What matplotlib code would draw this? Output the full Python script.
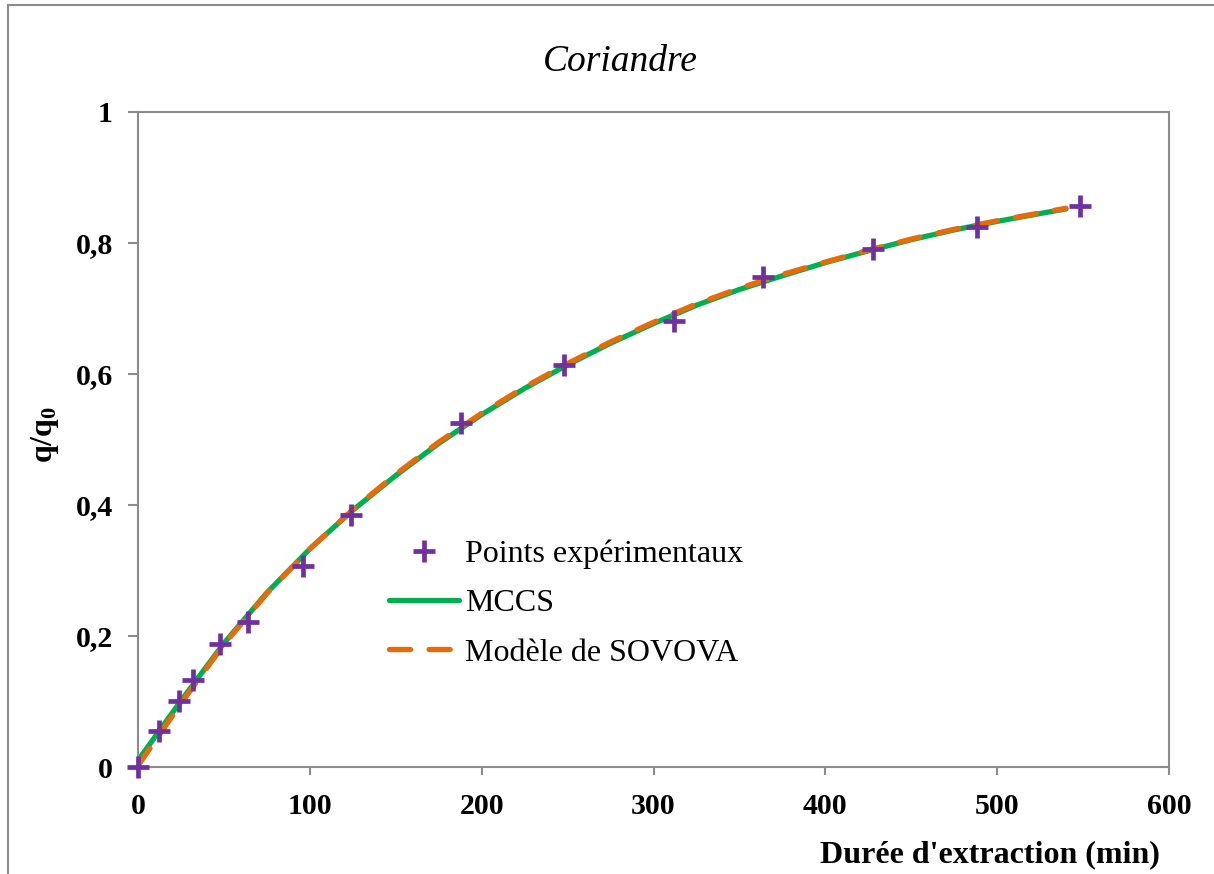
import matplotlib
matplotlib.use('Agg')
import matplotlib.pyplot as plt
from matplotlib.patches import Rectangle

# Coriandre extraction kinetics: experimental points and two fitted models
t_exp = [0, 12, 24, 32, 48, 64, 96, 124, 188, 248, 312, 364, 428, 488, 548]
q_exp = [0.0, 0.055, 0.101, 0.133, 0.188, 0.221, 0.307, 0.385, 0.525, 0.614,
         0.681, 0.748, 0.791, 0.824, 0.856]

t_model = [0, 25, 50, 75, 100, 125, 150, 175, 200, 225, 250, 275, 300, 325,
           350, 375, 400, 425, 450, 475, 500, 525, 540]
q_mccs = [0.010, 0.101, 0.189, 0.266, 0.333, 0.392, 0.445, 0.494, 0.538, 0.578,
          0.614, 0.647, 0.677, 0.705, 0.729, 0.750, 0.770, 0.788, 0.805, 0.820,
          0.833, 0.845, 0.852]
q_sovova = [0.002, 0.097, 0.187, 0.265, 0.333, 0.393, 0.447, 0.496, 0.540, 0.580,
            0.616, 0.649, 0.679, 0.707, 0.731, 0.752, 0.771, 0.789, 0.806, 0.821,
            0.834, 0.846, 0.853]

x_ticks = [0, 100, 200, 300, 400, 500, 600]
y_ticks = [0, 0.2, 0.4, 0.6, 0.8, 1.0]
y_tick_labels = ['0', '0,2', '0,4', '0,6', '0,8', '1']

plt.rcParams['font.family'] = ['Liberation Serif', 'DejaVu Serif']
plt.rcParams['mathtext.fontset'] = 'custom'
plt.rcParams['mathtext.rm'] = 'Liberation Serif'
plt.rcParams['mathtext.bf'] = 'Liberation Serif:bold'

W, H = 1214, 874
fig = plt.figure(figsize=(W / 100, H / 100), dpi=100)
ax = fig.add_axes([138 / W, 1 - 767 / H, (1169 - 138) / W, (767 - 112) / H])

# outer chart frame
fig.patches.append(Rectangle((8 / W, -0.1), 1.2, 1 - 5 / H + 0.1, transform=fig.transFigure,
                             fill=False, edgecolor='#8c8c8c', lw=1.5))

ax.plot(t_model, q_mccs, color='#00B050', lw=3.8, solid_capstyle='round',
        solid_joinstyle='round', label='MCCS', zorder=2)
ax.plot(t_model, q_sovova, color='#E46C0A', lw=3.8, dashes=(4, 3.5),
        dash_capstyle='round', label='Modèle de SOVOVA', zorder=3)
ax.plot(t_exp, q_exp, linestyle='none', marker='+', markersize=16, mew=3.4,
        color='#7030A0', label='Points expérimentaux', zorder=4, clip_on=False)

ax.set_xlim(0, 600)
ax.set_ylim(0, 1)
ax.set_xticks(x_ticks)
ax.set_yticks(y_ticks)
ax.set_yticklabels(y_tick_labels)
for spine in ax.spines.values():
    spine.set_color('#8c8c8c')
    spine.set_linewidth(1.5)
ax.tick_params(axis='both', direction='out', width=1.5, color='#8c8c8c', labelsize=21.5)
ax.tick_params(axis='x', length=6, pad=13)
ax.tick_params(axis='y', length=7, pad=11)
for lbl in ax.get_xticklabels() + ax.get_yticklabels():
    lbl.set_fontweight('bold')

handles, labels = ax.get_legend_handles_labels()
order = [2, 0, 1]
ax.legend([handles[i] for i in order], [labels[i] for i in order],
          loc='upper left', bbox_to_anchor=(238 / (1169 - 138), 1 - (527 - 112) / 655),
          frameon=False, fontsize=23, handlelength=2.2, handletextpad=0.2,
          labelspacing=0.62, borderaxespad=0)

fig.text(620 / W, 1 - 62 / H, 'Coriandre', ha='center', va='center',
         fontsize=27, style='italic')
fig.text(1160 / W, 1 - 855 / H, "Durée d'extraction (min)", ha='right', va='center',
         fontsize=23, fontweight='bold')
fig.text(45 / W, 1 - 434 / H, r'$\mathbf{q/q_0}$', ha='center', va='center',
         fontsize=23, rotation=90)

fig.savefig('out.png', dpi=100)
